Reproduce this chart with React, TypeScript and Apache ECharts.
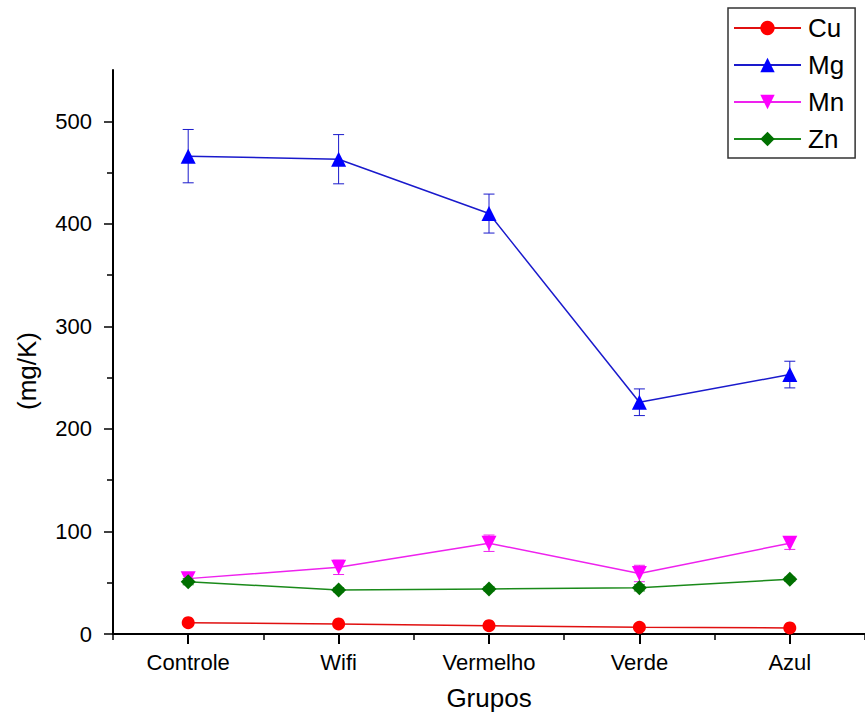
import React, { useEffect, useRef } from "react";
import * as echarts from "echarts";

const categories = ["Controle", "Wifi", "Vermelho", "Verde", "Azul"];
const cuMean = [11, 9.8, 8.1, 6.5, 5.9];
const cuErr = [1, 1, 1, 1, 1];
const mgMean = [466, 463, 410, 226, 253];
const mgErr = [26, 24, 19, 13, 13];
const mnMean = [54, 65, 88.5, 59, 88.5];
const mnErr = [4, 7, 8, 8, 6];
const znMean = [51, 43, 44, 45, 53.4];
const znErr = [3, 2, 2, 3, 2];
const yMajorTicks = [0, 100, 200, 300, 400, 500];
const yMinorTicks = [50, 150, 250, 350, 450];
const yTitle = "(mg/K)";
const xTitle = "Grupos";

const FONT = "'Liberation Sans', Arial, sans-serif";

const seriesDefs = [
  { name: "Cu", mean: cuMean, err: cuErr, color: "#ff0000", line: "#e01010", symbol: "circle", rotate: 0, size: 13 },
  { name: "Mg", mean: mgMean, err: mgErr, color: "#0000ff", line: "#1a1acc", symbol: "triangle", rotate: 0, size: 15 },
  { name: "Mn", mean: mnMean, err: mnErr, color: "#ff00ff", line: "#ee22ee", symbol: "triangle", rotate: 180, size: 15 },
  { name: "Zn", mean: znMean, err: znErr, color: "#007000", line: "#1a8a1a", symbol: "diamond", rotate: 0, size: 15 },
];

export default function App() {
  const ref = useRef<HTMLDivElement>(null);
  useEffect(() => {
    document.body.style.margin = "0";
    const chart = echarts.init(ref.current!, undefined, { renderer: "svg" });
    const series: any[] = [];
    seriesDefs.forEach((s) => {
      series.push({
        name: s.name + "_err",
        type: "custom",
        xAxisIndex: 0,
        yAxisIndex: 0,
        z: 1,
        silent: true,
        encode: { x: 0, y: [1, 2] },
        data: s.mean.map((m, i) => [i, m - s.err[i], m + s.err[i]]),
        renderItem: (params: any, api: any) => {
          const lo = api.coord([api.value(0), api.value(1)]);
          const hi = api.coord([api.value(0), api.value(2)]);
          const hw = 5.5;
          const style = { stroke: s.line, lineWidth: 1 };
          return {
            type: "group",
            children: [
              { type: "line", shape: { x1: lo[0], y1: lo[1], x2: hi[0], y2: hi[1] }, style },
              { type: "line", shape: { x1: hi[0] - hw, y1: hi[1], x2: hi[0] + hw, y2: hi[1] }, style },
              { type: "line", shape: { x1: lo[0] - hw, y1: lo[1], x2: lo[0] + hw, y2: lo[1] }, style },
            ],
          };
        },
      });
    });
    seriesDefs.forEach((s) => {
      series.push({
        name: s.name,
        type: "line",
        xAxisIndex: 0,
        yAxisIndex: 0,
        z: 3,
        data: s.mean,
        symbol: s.symbol,
        symbolRotate: s.rotate,
        symbolSize: s.size,
        showAllSymbol: true,
        itemStyle: { color: s.color },
        lineStyle: { color: s.line, width: 1.5 },
      });
    });

    chart.setOption({
      animation: false,
      backgroundColor: "#ffffff",
      grid: { left: 113, right: -4, top: 70, bottom: 91, containLabel: false },
      graphic: [
        {
          type: "text",
          x: 27,
          y: 371,
          rotation: Math.PI / 2,
          style: {
            text: yTitle,
            fontFamily: FONT,
            fontSize: 26,
            fill: "#000",
            align: "center",
            verticalAlign: "middle",
          },
        },
      ],
      legend: {
        data: seriesDefs.map((s) => s.name),
        orient: "vertical",
        left: 728,
        top: 8,
        itemWidth: 67,
        itemHeight: 18,
        itemGap: 11,
        padding: [7, 11, 6, 5],
        borderColor: "#333333",
        borderWidth: 1.5,
        textStyle: { fontFamily: FONT, fontSize: 26, color: "#000", lineHeight: 25, padding: [0, 0, 0, 2] },
      },
      xAxis: [
        {
          type: "category",
          data: categories,
          boundaryGap: true,
          name: xTitle,
          nameLocation: "middle",
          nameGap: 51,
          nameTextStyle: { fontFamily: FONT, fontSize: 26, color: "#000" },
          axisLine: { show: true, lineStyle: { color: "#000", width: 2 } },
          axisTick: { show: true, alignWithLabel: true, length: 10, lineStyle: { color: "#000", width: 2 } },
          axisLabel: { fontFamily: FONT, fontSize: 22, color: "#000", margin: 17 },
          splitLine: { show: false },
        },
        {
          type: "category",
          data: categories,
          boundaryGap: true,
          position: "bottom",
          axisLine: { show: false },
          axisTick: { show: true, alignWithLabel: false, interval: 0, length: 6, lineStyle: { color: "#000", width: 1.5 } },
          axisLabel: { show: false },
          splitLine: { show: false },
        },
      ],
      yAxis: [
        {
          type: "value",
          min: 0,
          max: 550,
          axisLine: { show: true, lineStyle: { color: "#000", width: 2 } },
          axisTick: { show: true, length: 9, customValues: yMajorTicks, lineStyle: { color: "#000", width: 1.5 } },
          axisLabel: { fontFamily: FONT, fontSize: 22, color: "#000", margin: 21, customValues: yMajorTicks },
          splitLine: { show: false },
        },
        {
          type: "value",
          min: 0,
          max: 550,
          position: "left",
          axisLine: { show: false },
          axisTick: { show: true, length: 6, customValues: yMinorTicks, lineStyle: { color: "#000", width: 1.5 } },
          axisLabel: { show: false },
          splitLine: { show: false },
        },
      ],
      series,
    });
    return () => chart.dispose();
  }, []);
  return <div ref={ref} style={{ width: 865, height: 725 }} />;
}
